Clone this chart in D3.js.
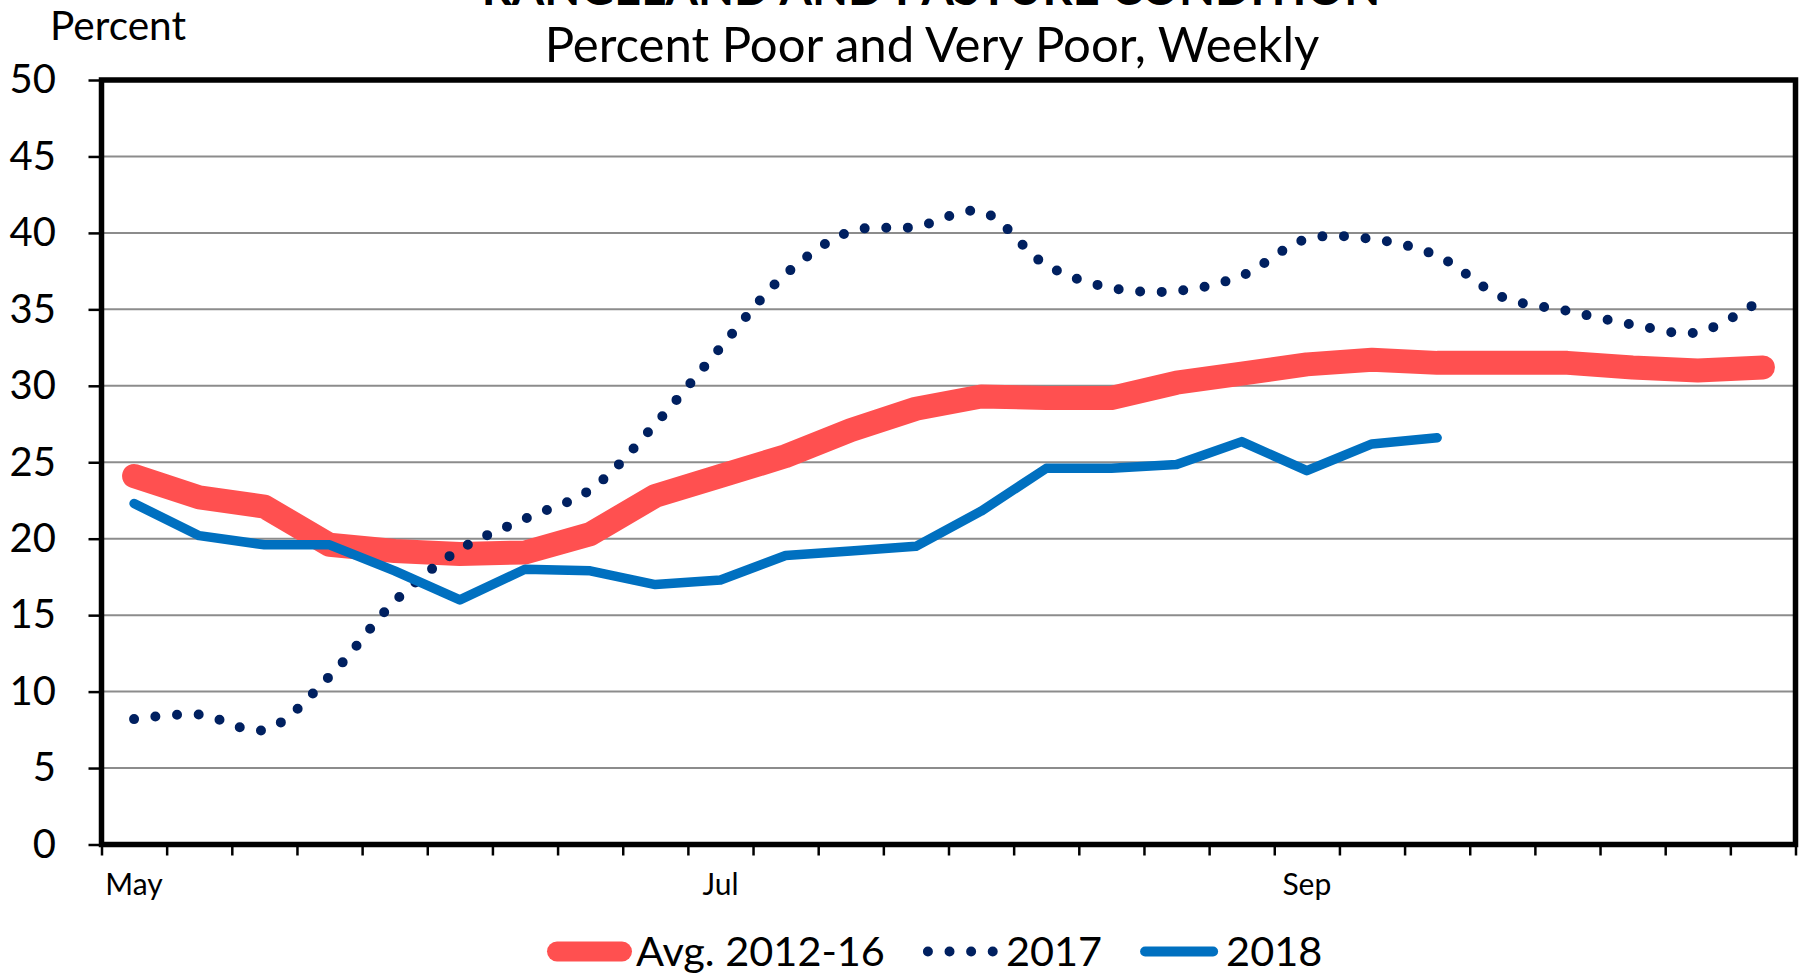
<!DOCTYPE html>
<html>
<head>
<meta charset="utf-8">
<title>Rangeland and Pasture Condition</title>
<script src="https://cdn.jsdelivr.net/npm/d3@7"></script>
<style>
    body { margin: 0; background: #fff; }
    text { font-family: Lato, "Open Sans", sans-serif; fill: #000; }
</style>
</head>
<body>
<div id="chart"></div>
<script>
// rangeland and pasture condition, weekly

// one label per week, starting first week of May
var weeks = ["May", "May", "May", "May", "May", "Jun", "Jun", "Jun", "Jun",
	     "Jul", "Jul", "Jul", "Jul", "Jul", "Aug", "Aug", "Aug", "Aug",
	     "Sep", "Sep", "Sep", "Sep", "Oct", "Oct", "Oct", "Oct"];

var avg = [24.1, 22.7, 22.1, 19.6, 19.2, 19.0, 19.1, 20.3, 22.8, 24.1, 25.4, 27.1, 28.5,
	   29.3, 29.2, 29.2, 30.2, 30.8, 31.4, 31.7, 31.5, 31.5, 31.5, 31.2, 31.0, 31.2];

var y2017 = [8.2, 8.5, 7.5, 11.0, 15.9, 19.3, 21.3, 23.2, 27.5, 32.5, 37.3, 40.1, 40.4,
	     41.4, 37.9, 36.4, 36.2, 37.2, 39.6, 39.6, 38.5, 35.8, 34.9, 34.0, 33.5, 35.7];

var y2018 = [22.3, 20.2, 19.6, 19.6, 17.9, 16.0, 18.0, 17.9, 17.0, 17.3, 18.9, 19.2, 19.5,
	     21.8, 24.6, 24.6, 24.85, 26.35, 24.45, 26.2, 26.6];

var yTicks = [0, 5, 10, 15, 20, 25, 30, 35, 40, 45, 50];
var labelEvery = 9;

var seriesNames = ["Avg. 2012-16", "2017", "2018"];
var seriesColors = ["#FF5050", "#002060", "#0070C0"];

var titleText = "RANGELAND AND PASTURE CONDITION";
var subtitleText = "Percent Poor and Very Poor, Weekly";
var unitText = "Percent";

var svgWidth = 1807;
var svgHeight = 975;

var plotLeft = 101.5;
var plotRight = 1795.5;
var plotTop = 80;
var plotBottom = 844.5;

// scale a text's font so it fills a given width
var fitText = function(sel, w){
    var len = sel.node().getComputedTextLength();
    var fs = parseFloat(sel.attr("font-size"));
    sel.attr("font-size", fs * w / len);
    return fs * w / len;
};

var svg = d3.select("#chart").append("svg")
    .attr("width", svgWidth)
    .attr("height", svgHeight);

var xScale = d3.scaleBand()
    .domain(d3.range(weeks.length))
    .range([plotLeft, plotRight])
    .padding(0);

var xEdge = d3.scaleLinear()
    .domain([0, weeks.length])
    .range([plotLeft, plotRight]);

var yScale = d3.scaleLinear()
    .domain([0, 50])
    .range([plotBottom, plotTop]);

var cx = function(i){
    return xScale(i) + xScale.bandwidth() / 2;
};

// gridlines
svg.append("g")
    .selectAll("line")
    .data(yTicks.slice(1))
    .enter().append("line")
    .attr("x1", plotLeft)
    .attr("x2", plotRight)
    .attr("y1", function(d){ return yScale(d); })
    .attr("y2", function(d){ return yScale(d); })
    .attr("stroke", "#8c8c8c")
    .attr("stroke-width", 2);

// y axis
var yAxis = d3.axisLeft(yScale)
    .tickValues(yTicks)
    .tickSize(13)
    .tickPadding(32.5);

var gy = svg.append("g")
    .attr("transform", "translate(" + plotLeft + ",0)")
    .call(yAxis);
gy.select(".domain").remove();
gy.selectAll(".tick line").attr("stroke", "#000").attr("stroke-width", 2.5);
gy.selectAll(".tick text")
    .attr("font-family", null)
    .attr("font-size", 40);

// x axis, tick marks between weeks
var xAxis = d3.axisBottom(xEdge)
    .tickValues(d3.range(weeks.length + 1))
    .tickSize(11)
    .tickFormat("");

var gx = svg.append("g")
    .attr("transform", "translate(0," + plotBottom + ")")
    .call(xAxis);
gx.select(".domain").remove();
gx.selectAll(".tick line").attr("stroke", "#000").attr("stroke-width", 2.5);

// month labels
var xLabels = d3.axisBottom(xScale)
    .tickValues(d3.range(0, weeks.length, labelEvery))
    .tickFormat(function(i){ return weeks[i]; })
    .tickSize(0)
    .tickPadding(29);

var gl = svg.append("g")
    .attr("transform", "translate(0," + plotBottom + ")")
    .call(xLabels);
gl.select(".domain").remove();
gl.selectAll(".tick text")
    .attr("font-family", null)
    .attr("font-size", 30);

// plot border
svg.append("rect")
    .attr("x", plotLeft)
    .attr("y", plotTop)
    .attr("width", plotRight - plotLeft)
    .attr("height", plotBottom - plotTop)
    .attr("fill", "none")
    .attr("stroke", "#000")
    .attr("stroke-width", 5.5);

var line = d3.line()
    .x(function(d, i){ return cx(i); })
    .y(function(d){ return yScale(d); });

var smooth = d3.line()
    .x(function(d, i){ return cx(i); })
    .y(function(d){ return yScale(d); })
    .curve(d3.curveCatmullRom.alpha(0.5));

svg.append("path")
    .attr("d", line(avg))
    .attr("fill", "none")
    .attr("stroke", seriesColors[0])
    .attr("stroke-width", 24)
    .attr("stroke-linecap", "round")
    .attr("stroke-linejoin", "round");

svg.append("path")
    .attr("d", smooth(y2017))
    .attr("fill", "none")
    .attr("stroke", seriesColors[1])
    .attr("stroke-width", 10)
    .attr("stroke-dasharray", "0 21.6")
    .attr("stroke-linecap", "round");

svg.append("path")
    .attr("d", line(y2018))
    .attr("fill", "none")
    .attr("stroke", seriesColors[2])
    .attr("stroke-width", 9.5)
    .attr("stroke-linecap", "round")
    .attr("stroke-linejoin", "round");

// titles (the main title sits mostly above the picture, as in the original)
var title = svg.append("text")
    .attr("x", 931)
    .attr("y", 5)
    .attr("text-anchor", "middle")
    .attr("font-weight", "bold")
    .attr("font-size", 44)
    .text(titleText);
fitText(title, 899);

var subtitle = svg.append("text")
    .attr("x", 932)
    .attr("y", 62)
    .attr("text-anchor", "middle")
    .attr("font-size", 44)
    .text(subtitleText);
fitText(subtitle, 775);

var unit = svg.append("text")
    .attr("x", 50)
    .attr("y", 40)
    .attr("font-size", 34)
    .text(unitText);
fitText(unit, 136);

// legend
var legendY = 951.5;
var legendX = 547;
var swatchW = 85;
var legendFont = 0;

var legend = svg.append("g");

seriesNames.forEach(function(name, i){
    var g = legend.append("g");
    var sw = g.append("line")
	.attr("y1", legendY)
	.attr("y2", legendY)
	.attr("stroke", seriesColors[i])
	.attr("stroke-linecap", "round");

    if(i == 0){
	sw.attr("x1", legendX + 10).attr("x2", legendX + swatchW - 10).attr("stroke-width", 20);
    }else if(i == 1){
	sw.attr("x1", legendX + 5).attr("x2", legendX + 70).attr("stroke-width", 10)
	    .attr("stroke-dasharray", "0 21.6");
    }else{
	sw.attr("x1", legendX + 5).attr("x2", legendX + swatchW - 12).attr("stroke-width", 10);
    }

    var t = g.append("text")
	.attr("x", legendX + swatchW + 4 - (i == 1 ? 6 : 0) - (i == 2 ? 3 : 0))
	.attr("y", legendY + 14)
	.attr("font-size", legendFont || 44)
	.text(name);
    if(i == 0){
	legendFont = fitText(t, 249);
    }
    var end = +t.attr("x") + t.node().getComputedTextLength();
    legendX = end + 38;
});

</script>
</body>
</html>
